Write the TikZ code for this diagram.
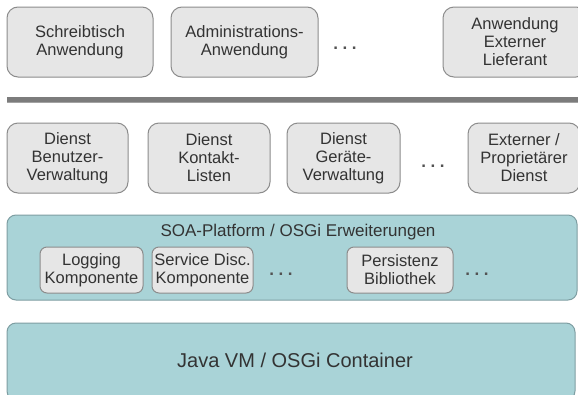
\documentclass[tikz,border=0pt]{standalone}
\usepackage{fontspec}
\setmainfont{Liberation Sans}
\definecolor{boxfill}{HTML}{E6E6E6}
\definecolor{boxline}{HTML}{8C8C8C}
\definecolor{layerfill}{HTML}{A9D3D7}
\definecolor{layerline}{HTML}{7E9EA2}
\definecolor{txt}{HTML}{333333}
\definecolor{barcol}{HTML}{7C7C7C}
\newcommand{\moredots}{.\hspace{4.5pt}.\hspace{4.5pt}.}
\tikzset{
  app/.style={draw=boxline, fill=boxfill, line width=1pt, rounded corners=11pt,
    inner sep=0pt, align=center, text=txt,
    font=\fontsize{16.5}{18}\selectfont},
  comp/.style={draw=boxline, fill=boxfill, line width=1pt, rounded corners=7pt,
    inner sep=0pt, align=center, text=txt,
    font=\fontsize{16.5}{18}\selectfont},
  layer/.style={draw=layerline, fill=layerfill, line width=1pt, rounded corners=9pt},
  ell/.style={text=txt!85!white, font=\fontsize{17}{18}\selectfont\bfseries, inner sep=0pt},
}
\begin{document}
\begin{tikzpicture}[x=1pt, y=-1pt]
\useasboundingbox (0,0) rectangle (578,394);
\clip (0,0) rectangle (578,394);
\fill[white] (0,0) rectangle (578,394);

% applications
\node[app, minimum width=146pt, minimum height=70pt] (desk) at (80,42) {Schreibtisch\\Anwendung};
\node[app, minimum width=147pt, minimum height=70pt] (admin) at (244.5,42) {Administrations-\\Anwendung};
\node[ell] (appdots) at (345,48) {\moredots};
\node[app, minimum width=144pt, minimum height=70pt] (extapp) at (515,42) {Anwendung\\Externer\\Lieferant};

% separator bar
\fill[barcol] (7,97) rectangle (578,103);
\fill[barcol!70!white] (7,101.5) rectangle (578,103);

% services
\node[app, minimum width=121pt, minimum height=70pt] (users) at (67.5,158) {Dienst\\Benutzer-\\Verwaltung};
\node[app, minimum width=122pt, minimum height=70pt] (contacts) at (209,158) {Dienst\\Kontakt-\\Listen};
\node[app, minimum width=113pt, minimum height=70pt] (devices) at (343.5,158) {Dienst\\Geräte-\\Verwaltung};
\node[ell] (svcdots) at (433,166) {\moredots};
\node[app, minimum width=112pt, minimum height=70pt] (extsvc) at (524,158) {Externer /\\Proprietärer\\Dienst};

% SOA platform layer
\draw[layer] (7,215) rectangle (577,300);
\node[text=txt, font=\fontsize{17}{18}\selectfont, inner sep=0pt] (soa) at (298,232) {SOA-Platform / OSGi Erweiterungen};
\node[comp, minimum width=103pt, minimum height=46pt] (logging) at (91.5,270) {Logging\\Komponente};
\node[comp, minimum width=101pt, minimum height=46pt] (discovery) at (202.5,270) {Service Disc.\\Komponente};
\node[ell] (compdots) at (281,274) {\moredots};
\node[comp, minimum width=106pt, minimum height=46pt] (persist) at (400,270) {Persistenz\\Bibliothek};
\node[ell] (libdots) at (477,274) {\moredots};

% container layer
\draw[layer] (7,323) rectangle (575,400);
\node[text=txt, font=\fontsize{20}{22}\selectfont, inner sep=0pt] (jvm) at (295,360) {Java VM / OSGi Container};
\end{tikzpicture}
\end{document}
